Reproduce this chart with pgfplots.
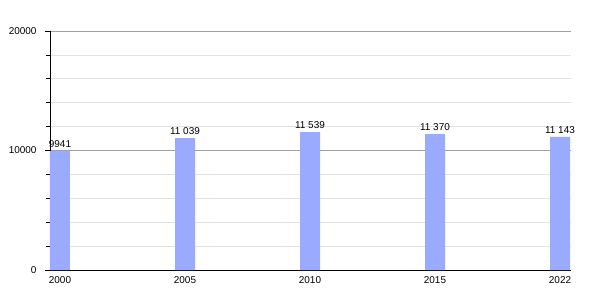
\documentclass[border=0pt]{standalone}
\usepackage{pgfplots}
\pgfplotsset{compat=1.18}
\usepackage{fontspec}
\setmainfont{Liberation Sans}
\definecolor{barblue}{RGB}{153,170,255}
\definecolor{majgrid}{RGB}{160,160,160}
\definecolor{mingrid}{RGB}{225,225,225}
\begin{document}
\begin{tikzpicture}
\useasboundingbox (-50bp,-30bp) rectangle (550bp,270bp);
\begin{axis}[
  at={(0,0)}, anchor=south west,
  scale only axis,
  width=521bp, height=239bp,
  font=\fontsize{10}{11}\selectfont,
  /pgf/number format/assume math mode=true,
  /pgf/number format/1000 sep={},
  scaled y ticks=false,
  xmin=-0.08, xmax=4.088,
  ymin=0, ymax=20000,
  axis x line*=bottom, axis y line*=left,
  axis line style={black, line width=0.8pt},
  xtick={0,1,2,3,4},
  xticklabels={2000,2005,2010,2015,2022},
  major x tick style={draw=none},
  x tick label style={yshift=2bp},
  ytick={0,10000,20000},
  y tick label style={xshift=-5bp},
  minor ytick={2000,4000,6000,8000,12000,14000,16000,18000},
  tick align=outside,
  major tick length=5bp, minor tick length=4bp,
  tick style={black, line width=0.6pt},
  ymajorgrids, yminorgrids,
  major grid style={majgrid, line width=0.7pt},
  minor grid style={mingrid, line width=0.7pt},
  ybar, bar width=20bp, bar shift=0pt,
  point meta=explicit symbolic,
  nodes near coords,
  nodes near coords style={font=\fontsize{10}{11}\selectfont, inner sep=1.5bp, yshift=2bp},
  clip=false,
]
\addplot[fill=barblue, draw=none] coordinates {
  (0,9941) [9941]
  (1,11039) [11\ 039]
  (2,11539) [11\ 539]
  (3,11370) [11\ 370]
  (4,11143) [11\ 143]
};
\end{axis}
\end{tikzpicture}
\end{document}
